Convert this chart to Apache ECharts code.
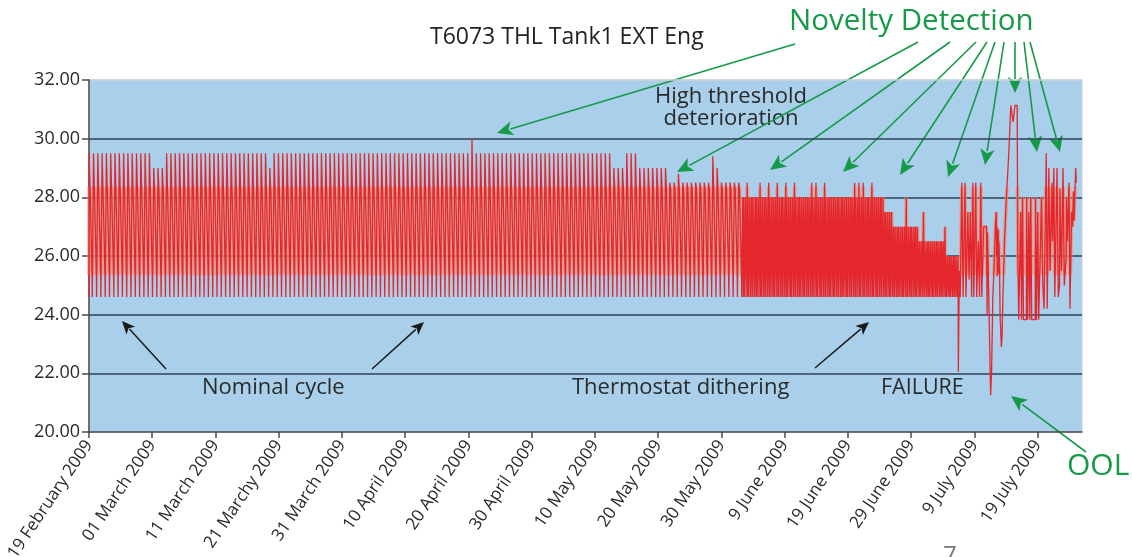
<!DOCTYPE html>
<html>
<head>
<meta charset="utf-8">
<script src="https://cdn.jsdelivr.net/npm/echarts@6/dist/echarts.min.js"></script>
<style>
  html, body { margin: 0; padding: 0; background: #fff; }
  #chart { width: 1132px; height: 557px; }
</style>
</head>
<body>
<div id="chart"></div>
<script>
var FONT = "'Open Sans', 'Noto Sans', sans-serif";
var GREEN = "#169a48";
var RED = "#e5262c";

// x axis: days since 19 Feb 2009, labelled every 10 days
var dateLabels = ["19 February 2009", "01 March 2009", "11 March 2009", "21 Marchy 2009",
  "31 March 2009", "10 April 2009", "20 April 2009", "30 April 2009", "10 May 2009",
  "20 May 2009", "30 May 2009", "9 June 2009", "19 June 2009", "29 June 2009",
  "9 July 2009", "19 July 2009"];

// one heating cycle every CYCLE days, trough at TROUGH
var CYCLE = 0.68;
var TROUGH = 24.6;
var RAMP_HI = 28.3, RAMP_LO = 25.4;
var DITHER = 2;

// peak of each nominal cycle (cycles 0-151)
var nominalPeaks = [
  29.5, 29.5, 29.5, 29.5, 29.5, 29.5, 29.5, 29.5, 29.5, 29.5,
  29.5, 29.5, 29.5, 29.5, 29.5, 29.0, 29.0, 29.0, 29.5, 29.5,
  29.5, 29.5, 29.5, 29.5, 29.5, 29.5, 29.5, 29.5, 29.5, 29.5,
  29.5, 29.5, 29.5, 29.5, 29.5, 29.5, 29.5, 29.5, 29.5, 29.5,
  29.5, 29.5, 29.0, 29.5, 29.5, 29.5, 29.5, 29.5, 29.5, 29.5,
  29.5, 29.5, 29.5, 29.5, 29.5, 29.5, 29.5, 29.5, 29.5, 29.5,
  29.5, 29.5, 29.5, 29.5, 29.5, 29.5, 29.5, 29.5, 29.5, 29.5,
  29.5, 29.5, 29.5, 29.5, 29.5, 29.5, 29.5, 29.5, 29.5, 29.5,
  29.5, 29.5, 29.5, 29.5, 29.5, 29.5, 29.5, 29.5, 29.5, 30.0,
  29.5, 29.5, 29.5, 29.5, 29.5, 29.5, 29.5, 29.5, 29.5, 29.5,
  29.5, 29.5, 29.5, 29.5, 29.5, 29.5, 29.5, 29.5, 29.5, 29.5,
  29.5, 29.5, 29.5, 29.5, 29.5, 29.5, 29.5, 29.5, 29.5, 29.5,
  29.5, 29.5, 29.0, 29.0, 29.0, 29.5, 29.5, 29.5, 29.0, 29.0,
  29.0, 29.0, 29.0, 29.0, 29.0, 28.5, 28.5, 28.8, 28.5, 28.5,
  28.5, 28.5, 28.5, 28.5, 28.5, 29.4, 29.0, 28.5, 28.5, 28.5,
  28.5, 28.5
];

// thermostat dithering cycles (cycles 152-201): spike and dither level
var ditherPeaks = [
  28.0, 28.5, 28.0, 28.0, 28.5, 28.0, 28.5, 28.0, 28.5, 28.0,
  28.5, 28.0, 28.5, 28.0, 28.0, 28.0, 28.5, 28.5, 28.0, 28.5,
  28.0, 28.0, 28.0, 28.0, 28.0, 28.0, 28.5, 28.5, 28.5, 28.0,
  28.5, 28.0, 28.0, 27.5, 27.5, 27.0, 27.0, 27.0, 28.0, 27.0,
  27.0, 26.5, 27.5, 26.5, 26.5, 26.5, 26.5, 27.0, 26.0, 26.0
];
var ditherLevels = [
  28.0, 28.0, 28.0, 28.0, 28.0, 28.0, 28.0, 28.0, 28.0, 28.0,
  28.0, 28.0, 28.0, 28.0, 28.0, 28.0, 28.0, 28.0, 28.0, 28.0,
  28.0, 28.0, 28.0, 28.0, 28.0, 28.0, 28.0, 28.0, 28.0, 28.0,
  28.0, 28.0, 28.0, 27.5, 27.5, 27.0, 27.0, 27.0, 27.0, 27.0,
  27.0, 26.5, 26.5, 26.5, 26.5, 26.5, 26.5, 26.0, 26.0, 26.0
];

// failure and out-of-limit period: [day, value]
var failureTrace = [
  [137.40, 26.0], [137.45, 22.05], [137.6, 25.5], [137.75, 24.6], [137.95, 24.6],
  [138.0, 28.5], [138.15, 28.5], [138.2, 24.6], [138.45, 24.6], [138.5, 28.5],
  [138.6, 28.5], [138.65, 24.6], [138.9, 24.6], [138.95, 27.5], [139.1, 27.5],
  [139.15, 25.2], [139.35, 27.5], [139.5, 27.5], [139.55, 24.6], [139.7, 24.6],
  [139.75, 28.5], [139.85, 28.5], [139.9, 24.6], [140.15, 24.6], [140.2, 28.5],
  [140.3, 28.5], [140.35, 24.6], [140.55, 24.6], [140.6, 26.5], [140.75, 26.5],
  [140.8, 24.6], [140.95, 24.6], [141.0, 28.5], [141.1, 28.5], [141.15, 24.6],
  [141.4, 24.6], [141.45, 27.0], [141.9, 27.0], [142.0, 24.0], [142.05, 26.8],
  [142.3, 24.2], [142.55, 21.25], [142.7, 22.0], [142.9, 24.6], [143.1, 25.6],
  [143.3, 27.0], [143.45, 27.5], [143.5, 26.0], [143.55, 27.0], [143.6, 25.3],
  [143.65, 26.8], [143.7, 25.5], [143.75, 26.9], [143.8, 25.4], [143.85, 26.5],
  [143.95, 25.8], [144.05, 24.0], [144.25, 22.9], [144.35, 23.2], [144.5, 24.6],
  [144.75, 26.5], [145.05, 28.0], [145.4, 29.4], [145.75, 31.13], [146.05, 31.13],
  [146.1, 30.57], [146.35, 30.57], [146.4, 31.13], [146.75, 31.13], [146.85, 26.0],
  [147.0, 23.83], [147.25, 23.83], [147.3, 27.5], [147.4, 27.5], [147.45, 23.83],
  [147.55, 23.83], [147.6, 28.0], [147.7, 28.0], [147.75, 23.83], [148.2, 23.83],
  [148.25, 28.0], [148.35, 28.0], [148.4, 23.83], [148.55, 23.83], [148.6, 27.5],
  [148.7, 27.5], [148.75, 23.83], [148.85, 23.83], [148.9, 28.0], [149.0, 28.0],
  [149.05, 23.83], [149.6, 23.83], [149.65, 28.0], [149.75, 28.0], [149.8, 23.83],
  [149.95, 23.83], [150.0, 27.5], [150.1, 27.5], [150.15, 23.83], [150.35, 23.83],
  [150.45, 26.5], [150.6, 28.0], [150.7, 28.0], [150.8, 25.0], [151.0, 24.2],
  [151.3, 24.2], [151.35, 29.5], [151.45, 29.5], [151.5, 24.2], [151.7, 24.2],
  [151.75, 29.0], [151.9, 29.0], [151.95, 25.5], [152.2, 25.5], [152.25, 28.5],
  [152.35, 26.5], [152.55, 29.0], [152.65, 29.0], [152.7, 24.6], [152.95, 24.6],
  [153.05, 29.0], [153.2, 29.0], [153.25, 24.6], [153.45, 25.0], [153.5, 28.3],
  [153.7, 28.3], [153.75, 25.5], [153.95, 25.5], [154.0, 29.0], [154.15, 29.0],
  [154.2, 25.0], [154.5, 26.0], [154.55, 28.0], [154.7, 26.5], [154.95, 28.5],
  [155.05, 28.5], [155.1, 24.2], [155.3, 24.2], [155.35, 27.5], [155.5, 27.0],
  [155.65, 28.2], [155.75, 27.2], [156.0, 29.0], [156.1, 28.5]
];

// turn the cycle tables into one polyline
function buildTrace() {
  var pts = [];
  var i, t, p;
  for (i = 0; i < nominalPeaks.length; i++) {
    t = i * CYCLE;
    p = nominalPeaks[i];
    pts.push([t, TROUGH], [t + 0.03, p], [t + 0.13, p], [t + 0.17, RAMP_HI],
      [t + 0.48, RAMP_LO], [t + 0.52, TROUGH]);
  }
  for (i = 0; i < ditherPeaks.length; i++) {
    t = (nominalPeaks.length + i) * CYCLE;
    p = ditherPeaks[i];
    pts.push([t, TROUGH], [t + 0.02, p], [t + 0.08, p], [t + 0.1, TROUGH]);
    var w = (CYCLE - 0.12) / DITHER;
    for (var k = 0; k < DITHER; k++) {
      var s = t + 0.12 + k * w;
      pts.push([s, TROUGH], [s + 0.02, ditherLevels[i]], [s + w * 0.4, ditherLevels[i]], [s + w * 0.45, TROUGH]);
    }
  }
  return pts.concat(failureTrace);
}
var trace = buildTrace();

function arrow(x1, y1, x2, y2, color, width, head) {
  var a = Math.atan2(y2 - y1, x2 - x1);
  var L = head, W = head * 0.45;
  var bx = x2 - L * Math.cos(a), by = y2 - L * Math.sin(a);
  return [
    { type: "line", silent: true, shape: { x1: x1, y1: y1, x2: bx + 2 * Math.cos(a), y2: by + 2 * Math.sin(a) },
      style: { stroke: color, lineWidth: width } },
    { type: "polygon", silent: true,
      shape: { points: [[x2, y2], [bx + W * Math.sin(a), by - W * Math.cos(a)], [bx + 0.25 * L * Math.cos(a), by + 0.25 * L * Math.sin(a)], [bx - W * Math.sin(a), by + W * Math.cos(a)]] },
      style: { fill: color } }
  ];
}

function label(text, x, y, size, color, align) {
  return { type: "text", silent: true, x: x, y: y,
    style: { text: text, fill: color, font: size + "px " + FONT, textAlign: align || "left", textVerticalAlign: "middle" } };
}

var graphics = [
  label("T6073 THL Tank1 EXT Eng", 430, 37, 23, "#222"),
  label("Novelty Detection", 789, 22, 29.5, GREEN),
  label("High threshold", 731, 97, 22, "#2a2a2a", "center"),
  label("deterioration", 731, 119, 22, "#2a2a2a", "center"),
  label("Nominal cycle", 202, 388, 22, "#2a2a2a"),
  label("Thermostat dithering", 572, 388, 22, "#2a2a2a"),
  label("FAILURE", 881, 388, 21.5, "#2a2a2a"),
  label("OOL", 1067, 466, 30, GREEN),
  label("7", 943, 556, 24, "#777")
];

var greenArrows = [
  [795, 44, 497, 133], [918, 42, 677, 172], [950, 42, 770, 170], [976, 42, 843, 172],
  [987, 42, 900, 175], [995, 42, 948, 177], [1004, 42, 985, 165], [1015, 42, 1015, 93],
  [1024, 42, 1037, 152], [1030, 42, 1060, 152], [1086, 452, 1011, 396]
];
var blackArrows = [
  [166, 369, 122, 321], [372, 369, 424, 322], [815, 368, 869, 322]
];
greenArrows.forEach(function (g) { graphics = graphics.concat(arrow(g[0], g[1], g[2], g[3], GREEN, 1.6, 16)); });
blackArrows.forEach(function (g) { graphics = graphics.concat(arrow(g[0], g[1], g[2], g[3], "#1a1a1a", 1.5, 13)); });

// plot box in pixels; the halo grid covers only the ramp band of it
var PLOT = { left: 89, right: 50, top: 80, bottom: 125 };
var PX_PER_UNIT = (557 - PLOT.top - PLOT.bottom) / 12;

var chart = echarts.init(document.getElementById("chart"));
chart.setOption({
  animation: false,
  textStyle: { fontFamily: FONT },
  grid: [
    { left: PLOT.left, right: PLOT.right, top: PLOT.top, bottom: PLOT.bottom, show: true,
      containLabel: false, outerBoundsMode: "none",
      backgroundColor: "#a9cfea", borderColor: "#c9d2da", borderWidth: 1 },
    { left: PLOT.left, right: PLOT.right, containLabel: false, outerBoundsMode: "none",
      top: PLOT.top + (32 - RAMP_HI) * PX_PER_UNIT,
      bottom: PLOT.bottom + (RAMP_LO - 20) * PX_PER_UNIT }
  ],
  xAxis: [{
    type: "value", min: 0, max: 157, interval: 10,
    axisLine: { lineStyle: { color: "#4a4a4a", width: 1.5 } },
    axisTick: { show: true, length: 6, lineStyle: { color: "#4a4a4a", width: 1.5 } },
    axisLabel: { rotate: 56, fontSize: 17, color: "#2a2a2a", margin: 10, showMaxLabel: false,
      formatter: function (v) { return dateLabels[Math.round(v / 10)] || ""; } },
    splitLine: { show: false }
  }, {
    gridIndex: 1, type: "value", min: 0, max: 157, show: false
  }],
  yAxis: [{
    type: "value", min: 20, max: 32, interval: 2,
    axisLine: { show: true, lineStyle: { color: "#4a4a4a", width: 1.5 } },
    axisTick: { show: true, length: 7, lineStyle: { color: "#4a4a4a", width: 1.5 } },
    axisLabel: { fontSize: 18, color: "#2a2a2a", margin: 9, formatter: function (v) { return v.toFixed(2); } },
    splitLine: { show: true, lineStyle: { width: 1.5,
      color: ["rgba(0,0,0,0)", "#2e4256", "#2e4256", "#2e4256", "#2e4256", "#2e4256", "#c9d2da"] } }
  }, {
    gridIndex: 1, type: "value", min: RAMP_LO, max: RAMP_HI, show: false
  }],
  series: [{
    type: "line",
    xAxisIndex: 1, yAxisIndex: 1,
    data: trace,
    showSymbol: false,
    symbol: "none",
    sampling: null,
    clip: true,
    lineStyle: { color: "rgba(240,140,118,0.75)", width: 3.5 },
    z: 2
  }, {
    type: "line",
    data: trace,
    showSymbol: false,
    symbol: "none",
    sampling: null,
    lineStyle: { color: RED, width: 1.3 },
    z: 3
  }],
  graphic: graphics
});
</script>
</body>
</html>
